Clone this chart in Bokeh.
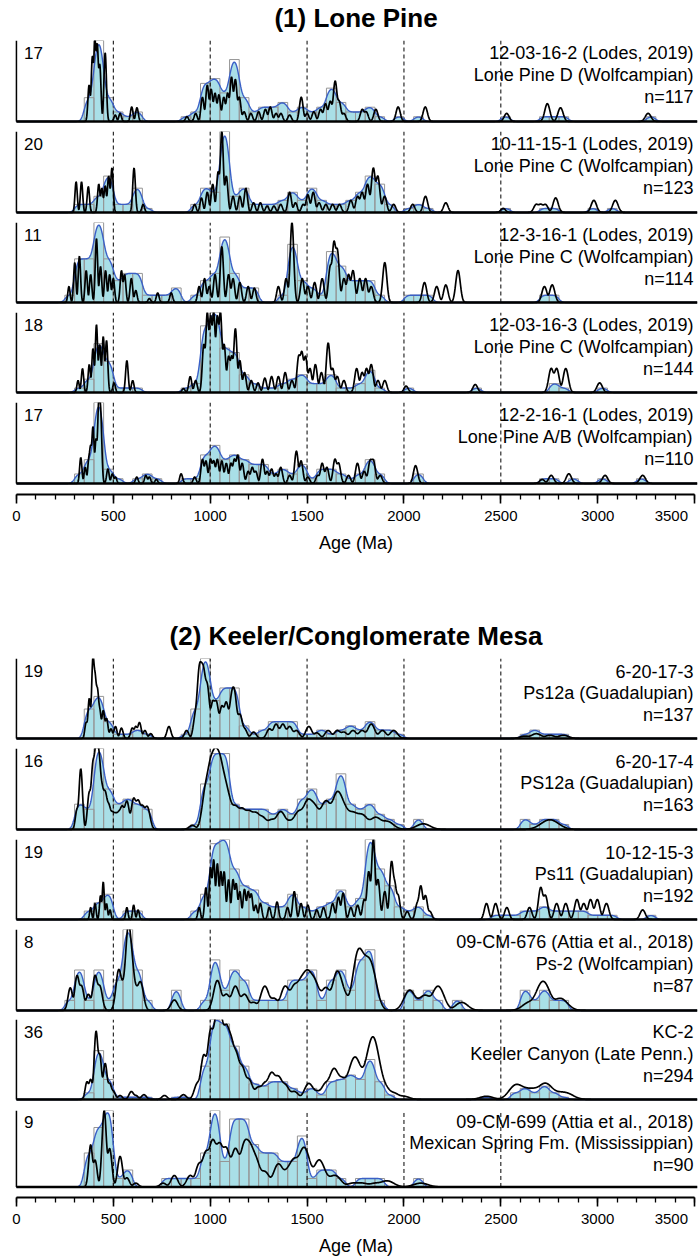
import math
import numpy as np
from bokeh.plotting import figure
from bokeh.layouts import column
from bokeh.models import Range1d, Label, FixedTicker
from bokeh.embed import file_html
from bokeh.resources import INLINE

# ======================= DATA =======================
group1_title = "(1) Lone Pine"
group2_title = "(2) Keeler/Conglomerate Mesa"
axis_title = "Age (Ma)"
tick_values = [0, 500, 1000, 1500, 2000, 2500, 3000, 3500]
tick_labels = ["0", "500", "1000", "1500", "2000", "2500", "3000", "3500"]
ref_lines = [500, 1000, 1500, 2000, 2500]
bin_width = 50

# ---- (1) Lone Pine ----
lp1_labels = ["12-03-16-2 (Lodes, 2019)", "Lone Pine D (Wolfcampian)", "n=117"]
lp1_ymax = 17
lp1_bins = [350, 400, 450, 500, 550, 600, 850, 900, 950, 1000, 1050, 1100, 1150, 1200, 1250, 1300, 1350, 1400,
            1450, 1500, 1550, 1600, 1650, 1700, 1750, 1800, 1850, 1950, 2050, 2500, 2700, 2750, 2800, 3250]
lp1_counts = [5, 17, 5, 2, 1, 2, 1, 2, 8, 9, 6, 13, 5, 2, 3, 3, 4, 2,
              3, 2, 3, 7, 4, 2, 2, 3, 1, 1, 1, 1, 1, 1, 1, 1]
lp1_peak_age = [375, 392, 405, 417, 430, 458, 510, 535, 595, 622, 880, 925, 960, 985, 1005, 1025, 1045, 1070,
                1090, 1110, 1130, 1150, 1175, 1210, 1250, 1285, 1310, 1340, 1365, 1410, 1470, 1500, 1535, 1570,
                1595, 1620, 1645, 1665, 1690, 1785, 1805, 1855, 1970, 2110, 2530, 2740, 2808, 3260]
lp1_peak_h = [0.45, 0.8, 1.0, 0.95, 0.7, 0.85, 0.08, 0.1, 0.18, 0.17, 0.06, 0.1, 0.3, 0.45, 0.4, 0.35, 0.33, 0.3,
              0.35, 0.55, 0.52, 0.3, 0.12, 0.1, 0.12, 0.15, 0.18, 0.1, 0.1, 0.08, 0.3, 0.1, 0.12, 0.15,
              0.22, 0.25, 0.5, 0.25, 0.1, 0.15, 0.12, 0.15, 0.18, 0.18, 0.1, 0.22, 0.17, 0.1]

lp2_labels = ["10-11-15-1 (Lodes, 2019)", "Lone Pine C (Wolfcampian)", "n=123"]
lp2_ymax = 20
lp2_bins = [300, 350, 400, 450, 500, 550, 600, 650, 900, 950, 1000, 1050, 1100, 1150, 1200, 1250, 1300, 1350,
            1400, 1450, 1500, 1550, 1600, 1650, 1700, 1750, 1800, 1850, 1900, 2000, 2050, 2100, 2500, 2700,
            2750, 2950, 3050]
lp2_counts = [2, 2, 4, 9, 2, 2, 6, 1, 2, 6, 5, 20, 4, 6, 2, 2, 2, 3,
              5, 3, 6, 3, 2, 2, 3, 5, 9, 7, 2, 1, 2, 1, 1, 1,
              1, 1, 1]
lp2_peak_age = [308, 336, 371, 425, 441, 458, 476, 493, 607, 654, 920, 955, 985, 1013, 1041, 1060, 1083, 1118,
                1153, 1184, 1224, 1259, 1294, 1329, 1364, 1410, 1440, 1480, 1504, 1532, 1562, 1597, 1632, 1667,
                1726, 1761, 1784, 1812, 1842, 1865, 1900, 1947, 2045, 2111, 2216, 2512, 2683, 2706, 2730, 2783,
                2980, 3091]
lp2_peak_h = [0.38, 0.38, 0.32, 0.35, 0.3, 0.33, 0.45, 0.55, 0.55, 0.1, 0.1, 0.18, 0.25, 0.35, 0.5, 1.0, 0.45, 0.2,
              0.2, 0.3, 0.12, 0.12, 0.08, 0.08, 0.1, 0.25, 0.12, 0.1, 0.22, 0.25, 0.12, 0.1, 0.1, 0.1,
              0.15, 0.2, 0.25, 0.35, 0.55, 0.45, 0.2, 0.1, 0.1, 0.2, 0.12, 0.05, 0.1, 0.1, 0.1, 0.18,
              0.15, 0.15]

lp3_labels = ["12-3-16-1 (Lodes, 2019)", "Lone Pine C (Wolfcampian)", "n=114"]
lp3_ymax = 11
lp3_bins = [250, 300, 350, 400, 450, 500, 550, 600, 650, 700, 750, 800, 900, 950, 1000, 1050, 1100, 1150, 1200,
            1350, 1400, 1450, 1500, 1550, 1600, 1650, 1700, 1750, 1800, 1850, 2000, 2050, 2100, 2700, 2750]
lp3_counts = [1, 6, 6, 11, 6, 3, 4, 4, 1, 1, 1, 2, 1, 3, 4, 9, 4, 2, 2,
              1, 8, 3, 2, 1, 7, 5, 3, 3, 3, 1, 1, 1, 1, 1, 1]
lp3_peak_age = [271, 301, 325, 360, 383, 413, 434, 460, 481, 500, 542, 558, 593, 616, 686, 729, 799, 943, 971,
                995, 1025, 1060, 1095, 1118, 1153, 1196, 1228, 1352, 1392, 1422, 1475, 1504, 1539, 1578, 1620,
                1639, 1656, 1690, 1714, 1737, 1772, 1802, 1831, 1901, 2106, 2169, 2216, 2279, 2725, 2765]
lp3_peak_h = [0.2, 0.5, 0.58, 0.4, 0.35, 0.8, 0.45, 0.4, 0.35, 0.3, 0.4, 0.35, 0.3, 0.15, 0.05, 0.12, 0.12, 0.2, 0.3,
              0.2, 0.35, 0.7, 0.35, 0.3, 0.25, 0.2, 0.18, 0.2, 0.3, 1.0, 0.3, 0.2, 0.25, 0.3, 0.45,
              0.75, 0.65, 0.3, 0.35, 0.4, 0.3, 0.3, 0.2, 0.5, 0.25, 0.2, 0.22, 0.4, 0.2, 0.22]

lp4_labels = ["12-03-16-3 (Lodes, 2019)", "Lone Pine C (Wolfcampian)", "n=144"]
lp4_ymax = 18
lp4_bins = [300, 350, 400, 450, 500, 550, 600, 850, 900, 950, 1000, 1050, 1100, 1150, 1200, 1250, 1300, 1350,
            1400, 1450, 1500, 1550, 1600, 1650, 1700, 1750, 1800, 1850, 2000, 2350, 2750, 2800, 3000]
lp4_counts = [1, 3, 11, 7, 1, 1, 1, 1, 2, 15, 18, 10, 9, 4, 2, 1, 1, 2,
              3, 4, 2, 2, 4, 1, 1, 2, 5, 1, 1, 1, 2, 1, 1]
lp4_peak_age = [318, 341, 376, 395, 413, 430, 448, 465, 504, 570, 600, 862, 897, 925, 967, 985, 1002, 1018, 1037,
                1053, 1072, 1095, 1111, 1130, 1153, 1177, 1212, 1247, 1282, 1317, 1352, 1387, 1422, 1457, 1473,
                1492, 1515, 1543, 1574, 1609, 1632, 1656, 1690, 1756, 1784, 1807, 1831, 1866, 1901, 2011, 2368,
                2760, 2788, 2835, 3010]
lp4_peak_h = [0.15, 0.3, 0.35, 0.55, 0.85, 0.6, 0.7, 0.65, 0.12, 0.4, 0.15, 0.05, 0.2, 0.15, 0.6, 1.0, 0.95, 1.0,
              0.95, 1.0, 0.6, 0.45, 0.45, 0.8, 0.4, 0.25, 0.15, 0.12, 0.18, 0.2, 0.2, 0.25, 0.15, 0.45, 0.5,
              0.45, 0.3, 0.35, 0.25, 0.62, 0.3, 0.2, 0.15, 0.3, 0.25, 0.3, 0.35, 0.15, 0.15, 0.08, 0.1,
              0.3, 0.3, 0.3, 0.12]

lp5_labels = ["12-2-16-1 (Lodes, 2019)", "Lone Pine A/B (Wolfcampian)", "n=110"]
lp5_ymax = 17
lp5_bins = [300, 350, 400, 450, 500, 600, 650, 700, 850, 900, 950, 1000, 1050, 1100, 1150, 1200, 1250, 1300,
            1350, 1400, 1450, 1500, 1550, 1600, 1650, 1700, 1750, 1800, 1850, 2050, 2700, 2750, 2850, 3000, 3200]
lp5_counts = [2, 5, 17, 3, 1, 1, 2, 1, 1, 1, 6, 8, 5, 6, 5, 4, 4, 2,
              3, 2, 4, 1, 3, 3, 2, 1, 2, 5, 2, 2, 1, 1, 1, 1, 1]
lp5_peak_age = [332, 355, 374, 383, 395, 411, 425, 434, 472, 495, 511, 621, 668, 686, 722, 850, 920, 960, 978,
                1002, 1018, 1037, 1060, 1083, 1107, 1125, 1142, 1165, 1196, 1217, 1235, 1270, 1294, 1317, 1340,
                1364, 1410, 1445, 1469, 1504, 1555, 1578, 1602, 1644, 1663, 1714, 1760, 1795, 1826, 1842, 1877,
                2060, 2713, 2760, 2851, 3038, 3232]
lp5_peak_h = [0.32, 0.2, 0.3, 0.45, 0.7, 0.55, 1.0, 0.9, 0.18, 0.12, 0.08, 0.08, 0.1, 0.08, 0.05, 0.12, 0.08, 0.3, 0.28,
              0.3, 0.28, 0.3, 0.28, 0.25, 0.25, 0.3, 0.35, 0.25, 0.15, 0.2, 0.15, 0.3, 0.15, 0.18, 0.12,
              0.2, 0.1, 0.4, 0.28, 0.08, 0.1, 0.25, 0.2, 0.3, 0.25, 0.1, 0.25, 0.15, 0.28, 0.28, 0.1,
              0.22, 0.05, 0.1, 0.12, 0.1, 0.1]

# ---- (2) Keeler / Conglomerate Mesa ----
km1_labels = ["6-20-17-3", "Ps12a (Guadalupian)", "n=137"]
km1_ymax = 19
km1_bins = [350, 400, 450, 500, 550, 600, 650, 850, 900, 950, 1000, 1050, 1100, 1150, 1200, 1250, 1300, 1350,
            1400, 1450, 1500, 1550, 1600, 1650, 1700, 1750, 1800, 1850, 1900, 1950, 2600, 2650, 2700, 2750, 2800]
km1_counts = [7, 10, 4, 1, 1, 2, 1, 1, 7, 19, 9, 12, 12, 3, 1, 2, 4, 4,
              4, 1, 1, 2, 1, 2, 3, 2, 4, 2, 2, 1, 1, 2, 1, 1, 1]
km1_peak_age = [360, 376, 395, 406, 418, 430, 448, 465, 488, 511, 542, 598, 616, 635, 663, 693, 787, 878, 925,
                943, 955, 967, 985, 1013, 1032, 1060, 1083, 1111, 1125, 1153, 1177, 1224, 1306, 1340, 1375,
                1410, 1445, 1509, 1550, 1609, 1656, 1690, 1737, 1784, 1831, 1889, 1947, 2624, 2683, 2753, 2823]
km1_peak_h = [0.2, 0.5, 1.0, 0.75, 0.6, 0.35, 0.35, 0.25, 0.12, 0.15, 0.13, 0.13, 0.15, 0.2, 0.1, 0.06, 0.15, 0.1, 0.3,
              0.8, 0.7, 0.75, 0.65, 0.45, 0.45, 0.4, 0.45, 0.5, 0.55, 0.3, 0.12, 0.08, 0.12, 0.18, 0.18,
              0.15, 0.1, 0.15, 0.07, 0.1, 0.1, 0.08, 0.1, 0.1, 0.18, 0.1, 0.1, 0.03, 0.06, 0.04, 0.04]

km2_labels = ["6-20-17-4", "PS12a (Guadalupian)", "n=163"]
km2_ymax = 16
km2_bins = [300, 350, 400, 450, 500, 550, 600, 650, 900, 950, 1000, 1050, 1100, 1150, 1200, 1250, 1300, 1350,
            1400, 1450, 1500, 1550, 1600, 1650, 1700, 1750, 1800, 1850, 1900, 1950, 2050, 2600, 2650, 2700,
            2750, 2800]
km2_counts = [5, 4, 16, 8, 5, 6, 5, 4, 1, 9, 15, 15, 5, 4, 4, 4, 3, 4,
              3, 6, 8, 5, 6, 11, 5, 4, 5, 3, 2, 1, 2, 2, 1, 2,
              2, 1]
km2_peak_age = [313, 332, 376, 395, 411, 425, 441, 458, 476, 495, 511, 528, 546, 570, 605, 628, 651, 675, 908,
                978, 1002, 1025, 1048, 1072, 1095, 1130, 1165, 1200, 1235, 1270, 1317, 1364, 1410, 1457, 1504,
                1539, 1597, 1656, 1690, 1737, 1784, 1854, 1913, 2100, 2753]
km2_peak_h = [0.25, 0.75, 0.45, 0.8, 1.0, 0.9, 0.5, 0.45, 0.3, 0.2, 0.18, 0.2, 0.28, 0.35, 0.38, 0.35, 0.28, 0.28, 0.05,
              0.5, 0.75, 0.85, 0.8, 0.55, 0.35, 0.28, 0.25, 0.22, 0.2, 0.15, 0.12, 0.22, 0.1, 0.22, 0.35,
              0.28, 0.35, 0.45, 0.25, 0.2, 0.18, 0.15, 0.1, 0.07, 0.12]

km3_labels = ["10-12-15-3", "Ps11 (Guadalupian)", "n=192"]
km3_ymax = 19
km3_bins = [350, 400, 450, 550, 600, 900, 950, 1000, 1050, 1100, 1150, 1200, 1250, 1300, 1350, 1400, 1450, 1500,
            1550, 1600, 1650, 1700, 1750, 1800, 1850, 1900, 1950, 2000, 2050, 2100, 2450, 2500, 2550, 2600,
            2650, 2700, 2750, 2800, 2850, 2900, 2950, 3000, 3050, 3250]
km3_counts = [2, 4, 6, 2, 2, 2, 6, 18, 19, 12, 8, 7, 4, 3, 3, 6, 3, 2,
              3, 4, 7, 3, 5, 19, 12, 8, 3, 2, 3, 1, 1, 1, 1, 2,
              2, 3, 2, 2, 2, 2, 1, 1, 1, 1]
km3_peak_age = [383, 406, 434, 448, 465, 483, 570, 605, 628, 943, 978, 1002, 1018, 1037, 1055, 1072, 1095, 1118,
                1134, 1153, 1177, 1196, 1212, 1235, 1259, 1305, 1345, 1399, 1434, 1469, 1504, 1550, 1585, 1632,
                1662, 1686, 1726, 1761, 1795, 1818, 1842, 1866, 1901, 1936, 1952, 1970, 2017, 2069, 2087, 2111,
                2134, 2426, 2473, 2531, 2648, 2706, 2730, 2788, 2835, 2893, 2928, 2963, 2998, 3045, 3232]
km3_peak_h = [0.15, 0.2, 0.3, 0.47, 0.2, 0.12, 0.15, 0.18, 0.12, 0.15, 0.4, 0.65, 0.75, 0.7, 0.6, 0.6, 0.5, 0.5,
              0.45, 0.35, 0.38, 0.35, 0.32, 0.18, 0.2, 0.15, 0.22, 0.15, 0.35, 0.2, 0.18, 0.12, 0.15, 0.2,
              0.28, 0.33, 0.15, 0.18, 0.25, 0.6, 1.0, 0.5, 0.35, 0.72, 0.45, 0.3, 0.1, 0.2, 0.42, 0.3,
              0.1, 0.2, 0.2, 0.15, 0.15, 0.4, 0.3, 0.2, 0.2, 0.25, 0.2, 0.25, 0.25, 0.2, 0.12]

km4_labels = ["09-CM-676 (Attia et al., 2018)", "Ps-2 (Wolfcampian)", "n=87"]
km4_ymax = 8
km4_bins = [250, 300, 350, 400, 450, 500, 550, 600, 650, 800, 950, 1000, 1050, 1100, 1150, 1200, 1250, 1300,
            1350, 1400, 1450, 1500, 1550, 1600, 1650, 1700, 1750, 1800, 1850, 2000, 2050, 2100, 2150, 2250,
            2600, 2650, 2700, 2750, 2800]
km4_counts = [1, 4, 1, 4, 1, 3, 8, 4, 1, 2, 1, 5, 2, 4, 3, 1, 1, 1,
              1, 3, 3, 4, 1, 3, 4, 2, 5, 6, 1, 2, 1, 2, 1, 1,
              2, 1, 2, 1, 1]
km4_peak_age = [278, 313, 336, 371, 406, 430, 528, 551, 577, 593, 616, 640, 815, 1037, 1083, 1130, 1177, 1224,
                1282, 1329, 1387, 1434, 1469, 1499, 1527, 1550, 1597, 1656, 1690, 1761, 1784, 1812, 1835, 2029,
                2076, 2111, 2176, 2298, 2648, 2718, 2807]
km4_peak_h = [0.28, 0.43, 0.3, 0.2, 0.43, 0.3, 0.5, 0.3, 1.0, 0.6, 0.25, 0.35, 0.13, 0.37, 0.2, 0.3, 0.2, 0.1,
              0.3, 0.15, 0.3, 0.3, 0.35, 0.44, 0.35, 0.25, 0.28, 0.48, 0.2, 0.65, 0.5, 0.5, 0.45, 0.25,
              0.1, 0.18, 0.3, 0.1, 0.1, 0.36, 0.15]

km5_labels = ["KC-2", "Keeler Canyon (Late Penn.)", "n=294"]
km5_ymax = 36
km5_bins = [350, 400, 450, 500, 550, 600, 650, 800, 850, 950, 1000, 1050, 1100, 1150, 1200, 1250, 1300, 1350,
            1400, 1450, 1500, 1550, 1600, 1650, 1700, 1750, 1800, 1850, 1900, 2400, 2550, 2600, 2650, 2700,
            2750, 2800]
km5_counts = [3, 22, 9, 1, 1, 1, 1, 1, 1, 15, 36, 34, 24, 15, 7, 6, 8, 8,
              5, 3, 5, 2, 8, 9, 11, 9, 18, 8, 2, 1, 3, 5, 3, 6,
              3, 1]
km5_peak_age = [364, 383, 411, 430, 458, 481, 500, 535, 593, 616, 658, 764, 862, 934, 967, 1002, 1032, 1055,
                1083, 1107, 1134, 1165, 1200, 1247, 1282, 1317, 1352, 1387, 1434, 1509, 1550, 1597, 1639, 1679,
                1714, 1737, 1756, 1784, 1818, 1842, 1866, 1901, 1947, 1999, 2426, 2578, 2624, 2671, 2730, 2788,
                2835]
km5_peak_h = [0.22, 0.25, 0.85, 0.55, 0.45, 0.2, 0.1, 0.05, 0.1, 0.05, 0.06, 0.05, 0.06, 0.2, 0.55, 0.85, 1.0, 0.95,
              0.85, 0.7, 0.55, 0.4, 0.25, 0.15, 0.2, 0.33, 0.28, 0.18, 0.1, 0.2, 0.1, 0.2, 0.38, 0.25,
              0.2, 0.38, 0.4, 0.25, 0.45, 0.68, 0.35, 0.15, 0.08, 0.04, 0.04, 0.18, 0.12, 0.12, 0.2, 0.08,
              0.08]

km6_labels = ["09-CM-699 (Attia et al., 2018)", "Mexican Spring Fm. (Mississippian)", "n=90"]
km6_ymax = 9
km6_bins = [350, 400, 450, 500, 550, 750, 800, 850, 900, 950, 1000, 1050, 1100, 1150, 1200, 1250, 1300, 1350,
            1400, 1450, 1500, 1550, 1600, 1650, 1750, 1800, 1850, 2050]
km6_counts = [4, 7, 9, 1, 2, 1, 1, 1, 1, 4, 9, 3, 8, 8, 5, 4, 4, 3,
              3, 6, 1, 2, 2, 1, 1, 1, 1, 1]
km6_peak_age = [383, 406, 453, 481, 535, 570, 616, 757, 815, 897, 943, 978, 1013, 1048, 1083, 1130, 1177, 1205,
                1235, 1282, 1352, 1399, 1434, 1480, 1499, 1562, 1597, 1644, 1737, 1784, 1854, 1913, 2087]
km6_peak_h = [0.55, 0.35, 1.0, 0.5, 0.4, 0.12, 0.05, 0.05, 0.15, 0.15, 0.3, 0.45, 0.6, 0.55, 0.5, 0.5, 0.55, 0.5,
              0.35, 0.2, 0.3, 0.2, 0.35, 0.45, 0.3, 0.35, 0.1, 0.15, 0.05, 0.05, 0.05, 0.08, 0.05]

# ======================= STYLE / LAYOUT =======================
FONT = "Liberation Sans"
W = 700
XMIN, XMAX = -10, 3515
LEFT_B, RIGHT_B = 14, 3
CYAN = "#a9dfe7"
BLUE = "#3a5fc6"
GRAY = "#959595"

# peak width model per panel (sigma = a + b * age)
SIG = {"lp": (5.0, 0.003), "km1": (4.0, 0.008), "km2": (4.0, 0.015), "km3": (4.0, 0.003),
       "km4": (9.0, 0.010), "km5": (5.0, 0.012), "km6": (4.0, 0.016)}
P_NORM = 2.0

group1 = [
    (lp1_labels, lp1_ymax, lp1_bins, lp1_counts, lp1_peak_age, lp1_peak_h, SIG["lp"]),
    (lp2_labels, lp2_ymax, lp2_bins, lp2_counts, lp2_peak_age, lp2_peak_h, SIG["lp"]),
    (lp3_labels, lp3_ymax, lp3_bins, lp3_counts, lp3_peak_age, lp3_peak_h, SIG["lp"]),
    (lp4_labels, lp4_ymax, lp4_bins, lp4_counts, lp4_peak_age, lp4_peak_h, SIG["lp"]),
    (lp5_labels, lp5_ymax, lp5_bins, lp5_counts, lp5_peak_age, lp5_peak_h, SIG["lp"]),
]
group2 = [
    (km1_labels, km1_ymax, km1_bins, km1_counts, km1_peak_age, km1_peak_h, SIG["km1"]),
    (km2_labels, km2_ymax, km2_bins, km2_counts, km2_peak_age, km2_peak_h, SIG["km2"]),
    (km3_labels, km3_ymax, km3_bins, km3_counts, km3_peak_age, km3_peak_h, SIG["km3"]),
    (km4_labels, km4_ymax, km4_bins, km4_counts, km4_peak_age, km4_peak_h, SIG["km4"]),
    (km5_labels, km5_ymax, km5_bins, km5_counts, km5_peak_age, km5_peak_h, SIG["km5"]),
    (km6_labels, km6_ymax, km6_bins, km6_counts, km6_peak_age, km6_peak_h, SIG["km6"]),
]

xs = np.arange(0.0, 3514.0, 1.5)


def erf(z):
    s = np.sign(z)
    a = np.abs(z)
    t = 1.0 / (1.0 + 0.3275911 * a)
    y = 1.0 - (((((1.061405429 * t - 1.453152027) * t) + 1.421413741) * t - 0.284496736) * t
               + 0.254829592) * t * np.exp(-a * a)
    return s * y


def kde_curve(bins, counts, bw=14.0):
    out = np.zeros_like(xs)
    s = bw * math.sqrt(2.0)
    for b, c in zip(bins, counts):
        out += c * 0.5 * (erf((xs - b) / s) - erf((xs - b - bin_width) / s))
    return out


def pdp_curve(ages, hs, sig):
    acc = np.zeros_like(xs)
    for a, h in zip(ages, hs):
        sd = sig[0] + sig[1] * a
        acc += (h * np.exp(-0.5 * ((xs - a) / sd) ** 2)) ** P_NORM
    return acc ** (1.0 / P_NORM)


def title_fig(text, h, center_from_top):
    p = figure(width=W, height=h, x_range=Range1d(0, W), y_range=Range1d(0, h),
               x_axis_type=None, y_axis_type=None, output_backend="svg", toolbar_location=None,
               min_border=0)
    p.outline_line_color = None
    p.add_layout(Label(x=W / 2, y=h - center_from_top, text=text, text_align="center",
                       text_baseline="middle", text_font=FONT, text_font_size="26px",
                       text_font_style="bold", text_color="black"))
    return p


def panel_fig(d, frame_h, pad, border_bottom, with_axis):
    labels, ymax, bins, counts, ages, hs, sig = d
    y0 = -ymax * pad / frame_h
    p = figure(width=W, height=frame_h + pad + border_bottom,
               x_range=Range1d(XMIN, XMAX), y_range=Range1d(y0, ymax),
               x_axis_type=("linear" if with_axis else None), y_axis_type=None,
               output_backend="svg", toolbar_location=None,
               min_border=0, min_border_left=LEFT_B, min_border_right=RIGHT_B,
               min_border_top=0, min_border_bottom=border_bottom)
    p.outline_line_color = None
    p.background_fill_color = "white"

    kde = kde_curve(bins, counts)
    pdp = pdp_curve(ages, hs, sig) * ymax

    p.varea(x=xs, y1=np.zeros_like(xs), y2=kde, fill_color=CYAN, fill_alpha=1.0)
    p.quad(left=bins, right=[b + bin_width for b in bins], bottom=[0] * len(bins), top=counts,
           fill_color=None, line_color=GRAY, line_width=1)
    p.segment(x0=ref_lines, y0=[0] * len(ref_lines), x1=ref_lines, y1=[ymax] * len(ref_lines),
              line_color="black", line_width=1, line_dash="4 3")
    p.line(xs, kde, line_color=BLUE, line_width=1.4)
    p.line(xs, pdp, line_color="black", line_width=1.7)
    p.segment(x0=[0], y0=[0], x1=[XMAX], y1=[0], line_color="black", line_width=2.6)
    p.segment(x0=[0], y0=[0], x1=[0], y1=[ymax], line_color="black", line_width=1.5)

    def yat(off):
        return ymax * (1 - off / frame_h)

    p.add_layout(Label(x=39, y=yat(12.5), text=str(ymax), text_align="left", text_baseline="middle",
                       text_font=FONT, text_font_size="17px", text_color="black"))
    for off, t in zip([12.5, 34.5, 56.5], labels):
        p.add_layout(Label(x=3494, y=yat(off), text=t, text_align="right", text_baseline="middle",
                           text_font=FONT, text_font_size="18px", text_color="black"))

    if with_axis:
        p.xgrid.grid_line_color = None
        ax = p.xaxis[0]
        ax.bounds = (0, 3500)
        ax.ticker = FixedTicker(ticks=tick_values, minor_ticks=list(range(0, 3501, 100)))
        # the last label sits flush right against its tick (as in the original): pad it on the right
        overrides = {}
        for v, t in zip(tick_values, tick_labels):
            overrides[v] = t + ("\u00a0" * 3 if v == tick_values[-1] else "")
        ax.major_label_overrides = overrides
        ax.axis_line_width = 2.2
        ax.axis_line_color = "black"
        ax.major_tick_in = 0
        ax.major_tick_out = 9
        ax.minor_tick_in = 0
        ax.minor_tick_out = 5
        ax.major_tick_line_width = 1.6
        ax.minor_tick_line_width = 1.3
        ax.major_tick_line_color = "black"
        ax.minor_tick_line_color = "black"
        ax.major_label_text_font = FONT
        ax.major_label_text_font_size = "15px"
        ax.major_label_text_color = "black"
        ax.major_label_standoff = 3
        ax.axis_label = axis_title
        ax.axis_label_text_font = FONT
        ax.axis_label_text_font_size = "18px"
        ax.axis_label_text_font_style = "normal"
        ax.axis_label_text_color = "black"
        ax.axis_label_standoff = 6
    return p


# layout numbers (pixels)
g1_tops = [40, 131, 222, 312, 402]
g1_frames = [81, 81, 80, 80, 81]
g2_tops = [658, 748, 839, 929, 1019, 1110]
g2_frames = [80, 81, 80, 81, 80, 80]
T2_TOP = 618
PAGE_H = 1258
PAD = 2
AXIS_PAD = 11

figs = [title_fig(group1_title, 40, 17)]
for i, d in enumerate(group1):
    last = i == len(group1) - 1
    top = g1_tops[i]
    if not last:
        fr = g1_frames[i] + PAD
        bb = g1_tops[i + 1] - top - fr
        figs.append(panel_fig(d, g1_frames[i], PAD, bb, False))
    else:
        fr = g1_frames[i] + AXIS_PAD
        bb = T2_TOP - top - fr
        figs.append(panel_fig(d, g1_frames[i], AXIS_PAD, bb, True))

figs.append(title_fig(group2_title, g2_tops[0] - T2_TOP, 17))
for i, d in enumerate(group2):
    last = i == len(group2) - 1
    top = g2_tops[i]
    if not last:
        fr = g2_frames[i] + PAD
        bb = g2_tops[i + 1] - top - fr
        figs.append(panel_fig(d, g2_frames[i], PAD, bb, False))
    else:
        fr = g2_frames[i] + AXIS_PAD
        bb = PAGE_H - top - fr
        figs.append(panel_fig(d, g2_frames[i], AXIS_PAD, bb, True))

layout = column(*figs, spacing=0)
open("out.html", "w").write(file_html(layout, INLINE))
